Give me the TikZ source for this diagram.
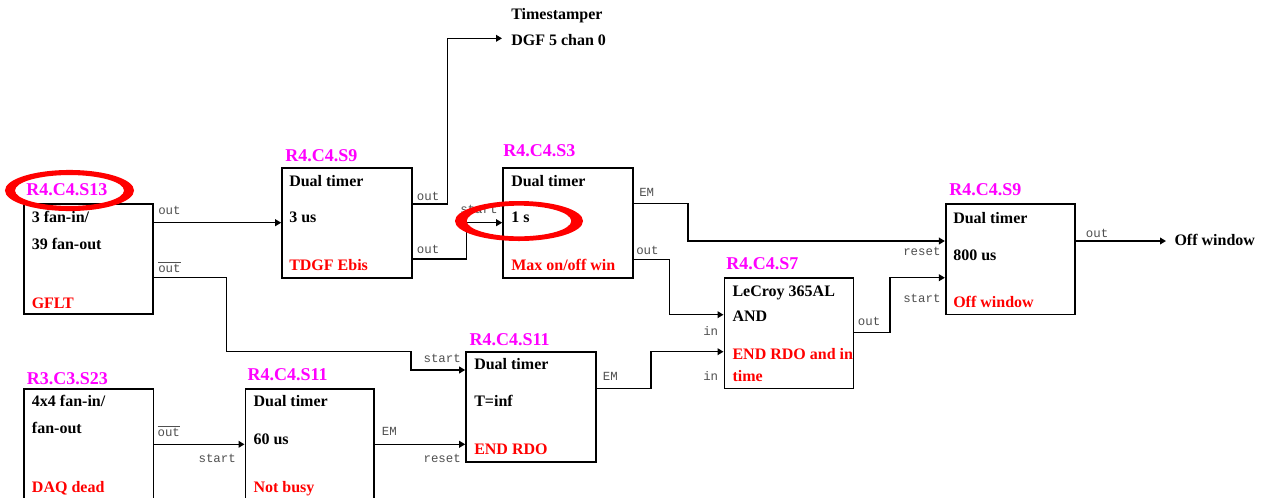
\documentclass[tikz,border=0pt]{standalone}
\usepackage{fontspec}
\setmainfont{Liberation Serif}
\setmonofont{Liberation Mono}
\usetikzlibrary{arrows.meta,fit}
\definecolor{labmag}{RGB}{255,0,255}
\definecolor{txtred}{RGB}{255,0,0}
\definecolor{portgray}{RGB}{80,80,80}
\tikzset{
 box/.style={draw=black, line width=1.2pt, inner sep=0pt},
 btxt/.style={anchor=base west, inner sep=0pt, font=\fontsize{12}{14}\selectfont\bfseries},
 rtxt/.style={btxt, text=txtred},
 mlab/.style={anchor=base west, inner sep=0pt, font=\fontsize{13.5}{16}\selectfont\bfseries, text=labmag},
 port/.style={anchor=base west, inner sep=0pt, font=\fontsize{9.3}{11}\selectfont\ttfamily, text=portgray},
 conn/.style={line width=1.15pt, -{Triangle[length=4.5pt,width=5pt]}},
 ring/.style={fill=txtred, even odd rule},
}
\begin{document}
\begin{tikzpicture}[x=0.75pt,y=-0.75pt]
\path[use as bounding box, clip] (0,0) rectangle (1261,497);
\fill[white] (0,0) rectangle (1261,497);

% boxes
\node[box, fit={(24,204) (153,314)}] (b1) {};
\node[box, fit={(282,167.7) (411.7,277.7)}] (b2) {};
\node[box, fit={(503,167.7) (632.7,277.7)}] (b3) {};
\node[box, fit={(945.7,203.7) (1075,314.3)}] (b4) {};
\node[box, fit={(724.3,277.7) (853.3,388.3)}] (b5) {};
\node[box, fit={(466,352) (595.7,462)}] (b6) {};
\node[box, fit={(24,389) (153.3,530)}] (b7) {};
\node[box, fit={(245.3,389) (374,530)}] (b8) {};

% box texts
\node[mlab] (l1) at (26,195) {R4.C4.S13};
\node[btxt] (t1a) at (31.5,222.7) {3 fan-in/};
\node[btxt] (t1b) at (31.5,249.3) {39 fan-out};
\node[rtxt] (t1c) at (31.5,308) {GFLT};

\node[mlab] (l2) at (285,161) {R4.C4.S9};
\node[btxt] (t2a) at (289,186.7) {Dual timer};
\node[btxt] (t2b) at (289,222.7) {3 us};
\node[rtxt] (t2c) at (289,270.7) {TDGF Ebis};

\node[mlab] (l3) at (503,156.7) {R4.C4.S3};
\node[btxt] (t3a) at (511,186.7) {Dual timer};
\node[btxt] (t3b) at (511,222.7) {1 s};
\node[rtxt] (t3c) at (511,270.7) {Max on/off win};

\node[mlab] (l4) at (949,195.7) {R4.C4.S9};
\node[btxt] (t4a) at (953,223.3) {Dual timer};
\node[btxt] (t4b) at (953,260) {800 us};
\node[rtxt] (t4c) at (953,307.7) {Off window};

\node[mlab] (l5) at (726,269) {R4.C4.S7};
\node[btxt] (t5a) at (732.3,296) {LeCroy 365AL};
\node[btxt] (t5b) at (732.3,321.7) {AND};
\node[rtxt] (t5c) at (732.3,359) {END RDO and in};
\node[rtxt] (t5d) at (732.3,381) {time};

\node[mlab] (l6) at (469.3,345) {R4.C4.S11};
\node[btxt] (t6a) at (474,369.3) {Dual timer};
\node[btxt] (t6b) at (474,406) {T=inf};
\node[rtxt] (t6c) at (474,454.3) {END RDO};

\node[mlab] (l7) at (26.7,384) {R3.C3.S23};
\node[btxt] (t7a) at (31.7,406.7) {4x4 fan-in/};
\node[btxt] (t7b) at (31.7,433.3) {fan-out};
\node[rtxt] (t7c) at (31.7,492) {DAQ dead};

\node[mlab] (l8) at (247.3,380) {R4.C4.S11};
\node[btxt] (t8a) at (253.3,406.7) {Dual timer};
\node[btxt] (t8b) at (253.3,444) {60 us};
\node[rtxt] (t8c) at (253.3,492) {Not busy};

% outside targets
\node[btxt] (tsa) at (511,19.3) {Timestamper};
\node[btxt, inner xsep=6.75pt] (ts) at (502,45.7) {DGF 5 chan 0};
\node[btxt, inner xsep=6.2pt] (ow) at (1166,245) {Off window};

% connectors
\draw[conn] (b1.east |- 0,222.7) -- (b2.west |- 0,222.7);
\draw[conn] (b1.east |- 0,277.7) -| (226.7,351.7) -| (411,370) -- (b6.west |- 0,370);
\draw[conn] (b2.east |- 0,204) -| (447.7,38.3) -- (ts.west |- 0,38.3);
\draw[conn] (b2.east |- 0,259) -| (466.7,222.7) -- (b3.west |- 0,222.7);
\draw[conn] (b3.east |- 0,203.7) -| (688,241) -- (b4.west |- 0,241);
\draw[conn] (b3.east |- 0,259.3) -| (669.3,314.7) -- (b5.west |- 0,314.7);
\draw[conn] (b6.east |- 0,388.3) -| (651,351.7) -- (b5.west |- 0,351.7);
\draw[conn] (b5.east |- 0,332.7) -| (890,277.7) -- (b4.west |- 0,277.7);
\draw[conn] (b4.east |- 0,241) -- (ow.west |- 0,241);
\draw[conn] (b7.east |- 0,444.3) -- (b8.west |- 0,444.3);
\draw[conn] (b8.east |- 0,444.3) -- (b6.west |- 0,444.3);

% port labels
\node[port] (p1) at (158,214) {out};
\node[port] (p2) at (158,272) {$\overline{\hbox{out}}$};
\node[port] (p3) at (416.7,200.7) {out};
\node[port] (p4) at (416.7,253) {out};
\node[port] (p5) at (460,213) {start};
\node[port] (p6) at (639,196) {EM};
\node[port] (p7) at (636,254) {out};
\node[port] (p8) at (903,255) {reset};
\node[port] (p9) at (903,302.7) {start};
\node[port] (p10) at (1085.7,237.7) {out};
\node[port] (p11) at (703,335.7) {in};
\node[port] (p12) at (703,380) {in};
\node[port] (p13) at (857.7,325) {out};
\node[port] (p14) at (423.3,362.3) {start};
\node[port] (p15) at (423.3,462.7) {reset};
\node[port] (p16) at (602.7,380.7) {EM};
\node[port] (p17) at (157.3,436) {$\overline{\hbox{out}}$};
\node[port] (p18) at (198.3,462.7) {start};
\node[port] (p19) at (381.7,435.3) {EM};

% red highlight rings
\fill[ring] (69.5,190.5) ellipse [x radius=48.4pt, y radius=15.4pt]
            (69.5,190.5) ellipse [x radius=40.9pt, y radius=11.6pt];
\fill[ring] (519,221) ellipse [x radius=48pt, y radius=15pt]
            (519,221) ellipse [x radius=39.2pt, y radius=11.5pt];
\end{tikzpicture}
\end{document}
